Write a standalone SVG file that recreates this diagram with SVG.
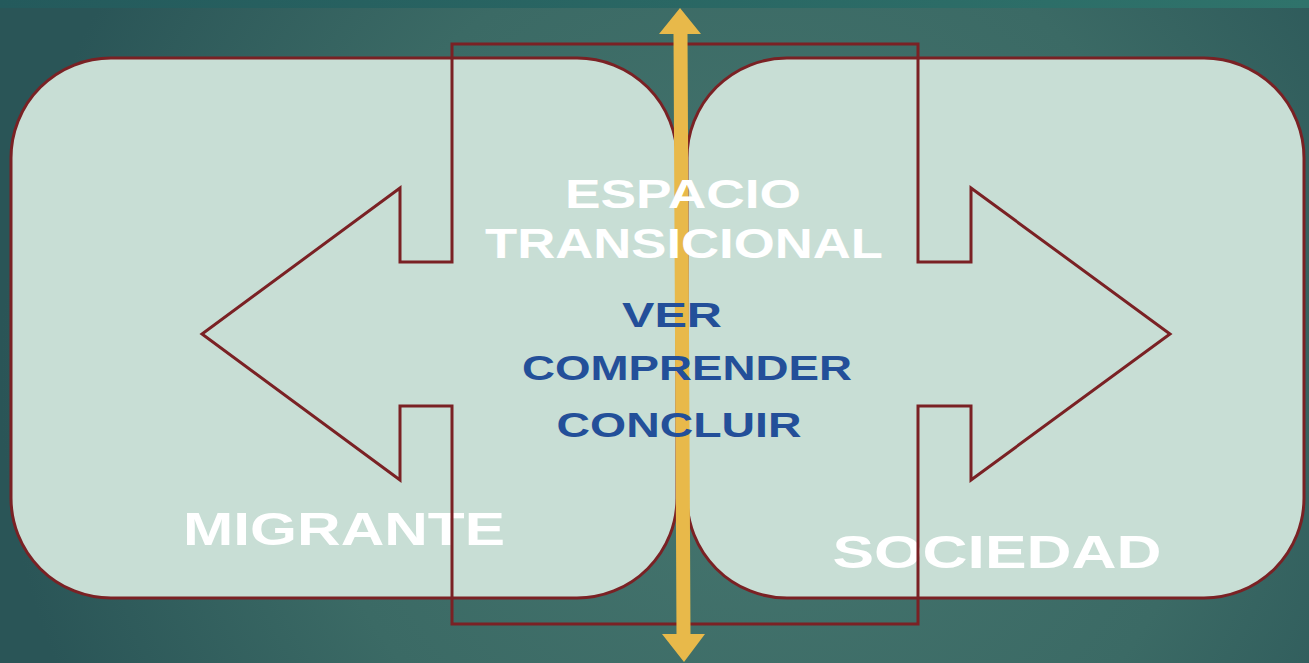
<svg xmlns="http://www.w3.org/2000/svg" width="1309" height="663" viewBox="0 0 1309 663">
  <defs>
    <radialGradient id="bg" cx="760" cy="380" r="760" gradientUnits="userSpaceOnUse">
      <stop offset="0" stop-color="#46766f"/>
      <stop offset="0.6" stop-color="#3b6a65"/>
      <stop offset="1" stop-color="#2a5557"/>
    </radialGradient>
    <linearGradient id="strip" x1="0" y1="0" x2="1" y2="0">
      <stop offset="0" stop-color="#245a5c"/>
      <stop offset="1" stop-color="#2f736b"/>
    </linearGradient>
  </defs>
  <style>
    .panel { fill: #c8ded5; stroke: #7a2124; stroke-width: 3; }
    .callout { fill: none; stroke: #7a2124; stroke-width: 3; stroke-linejoin: miter; }
    .arrow { fill: #e8b94a; }
    .white { font-family: "Liberation Sans", Arial, sans-serif; font-weight: bold; fill: #ffffff; text-anchor: middle; }
    .blue { font-family: "Liberation Sans", Arial, sans-serif; font-weight: bold; fill: #234f99; text-anchor: middle; }
  </style>
  <rect x="0" y="0" width="1309" height="663" fill="url(#bg)"/>
  <rect x="0" y="0" width="1309" height="8" fill="url(#strip)"/>

  <g id="migrante">
    <rect class="panel" x="11" y="58" width="666" height="540" rx="100" ry="100"/>
    <text class="white" x="344" y="545" font-size="46" textLength="322" lengthAdjust="spacingAndGlyphs">MIGRANTE</text>
  </g>

  <g id="sociedad">
    <rect class="panel" x="687" y="58" width="617" height="540" rx="100" ry="100"/>
    <text class="white" x="997" y="568" font-size="46" textLength="329" lengthAdjust="spacingAndGlyphs">SOCIEDAD</text>
  </g>

  <g id="espacio-transicional">
    <polygon class="callout" points="452,44 918,44 918,262 971,262 971,188 1170,334 971,480 971,406 918,406 918,624 452,624 452,406 400,406 400,480 202,334 400,188 400,262 452,262"/>
  </g>

  <g id="connectors">
    <polygon class="arrow" points="680,8 701,34 687.5,34 690.5,634 705,634 684,662 662,634 676.5,634 673.5,34 659,34"/>
  </g>

  <g id="labels">
    <text class="white" x="683" y="208" font-size="41" textLength="236" lengthAdjust="spacingAndGlyphs">ESPACIO</text>
    <text class="white" x="684" y="258" font-size="42" textLength="398" lengthAdjust="spacingAndGlyphs">TRANSICIONAL</text>
    <text class="blue" x="672" y="327" font-size="35" textLength="100" lengthAdjust="spacingAndGlyphs">VER</text>
    <text class="blue" x="687" y="380" font-size="35" textLength="330" lengthAdjust="spacingAndGlyphs">COMPRENDER</text>
    <text class="blue" x="679" y="437" font-size="35" textLength="245" lengthAdjust="spacingAndGlyphs">CONCLUIR</text>
  </g>
</svg>
